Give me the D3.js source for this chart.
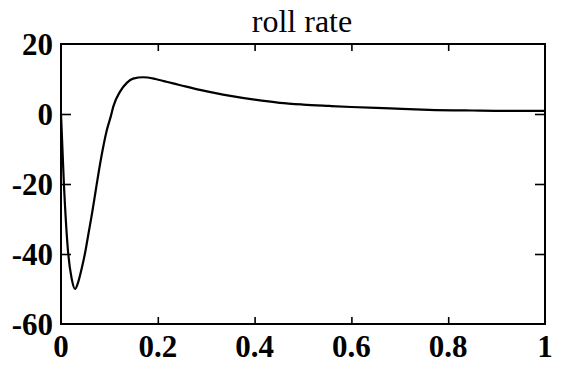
<!DOCTYPE html>
<html>
<head>
<meta charset="utf-8">
<script src="https://cdn.jsdelivr.net/npm/d3@7"></script>
<style>
  html, body { margin: 0; padding: 0; background: #fff; }
  svg { display: block; }
  text { font-family: "Liberation Serif", "Times New Roman", serif; fill: #000; }
</style>
</head>
<body>
<svg id="chart" width="567" height="370"></svg>
<script>
// Roll rate response over time
const time = [0, 0.006, 0.015, 0.022, 0.029, 0.036, 0.043, 0.050, 0.057, 0.064, 0.071, 0.078, 0.086, 0.094, 0.103, 0.108, 0.122, 0.136, 0.149, 0.170, 0.195, 0.218, 0.245, 0.287, 0.322, 0.35, 0.40, 0.452, 0.50, 0.555, 0.60, 0.68, 0.76, 0.85, 0.92, 1.0];
const rollRate = [0, -20, -40, -47, -50, -47.8, -44, -39.5, -34, -28.5, -22.5, -16.5, -10.3, -5, -0.6, 2.1, 6.4, 8.9, 10.1, 10.5, 10.0, 9.2, 8.3, 6.9, 5.9, 5.2, 4.1, 3.2, 2.7, 2.3, 2.0, 1.6, 1.2, 1.0, 0.9, 0.9];

const xTicks = [0, 0.2, 0.4, 0.6, 0.8, 1];
const xTickLabels = ["0", "0.2", "0.4", "0.6", "0.8", "1"];
const yTicks = [20, 0, -20, -40, -60];
const yTickLabels = ["20", "0", "-20", "-40", "-60"];
const title = "roll rate";

const svg = d3.select("#chart");
const margin = { left: 61, right: 22, top: 44, bottom: 46 };
const W = 567, H = 370;

const x = d3.scaleLinear().domain([0, 1]).range([margin.left, W - margin.right]);
const y = d3.scaleLinear().domain([-60, 20]).range([H - margin.bottom, margin.top]);

// Inward ticks on all four sides
const tickStyle = g => g.selectAll("path.domain").remove();

svg.append("g")
  .attr("transform", `translate(0,${y(-60)})`)
  .call(d3.axisTop(x).tickValues(xTicks.slice(1, -1)).tickSize(7).tickFormat(""))
  .call(tickStyle)
  .selectAll("line").attr("stroke", "#000").attr("stroke-width", 1.6);

svg.append("g")
  .attr("transform", `translate(0,${y(20)})`)
  .call(d3.axisBottom(x).tickValues(xTicks.slice(1, -1)).tickSize(7).tickFormat(""))
  .call(tickStyle)
  .selectAll("line").attr("stroke", "#000").attr("stroke-width", 1.6);

svg.append("g")
  .attr("transform", `translate(${x(0)},0)`)
  .call(d3.axisRight(y).tickValues(yTicks.slice(1, -1)).tickSize(10).tickFormat(""))
  .call(tickStyle)
  .selectAll("line").attr("stroke", "#000").attr("stroke-width", 1.6);

svg.append("g")
  .attr("transform", `translate(${x(1)},0)`)
  .call(d3.axisLeft(y).tickValues(yTicks.slice(1, -1)).tickSize(10).tickFormat(""))
  .call(tickStyle)
  .selectAll("line").attr("stroke", "#000").attr("stroke-width", 1.6);

// Axis box
svg.append("rect")
  .attr("x", x(0)).attr("y", y(20))
  .attr("width", x(1) - x(0)).attr("height", y(-60) - y(20))
  .attr("fill", "none").attr("stroke", "#000").attr("stroke-width", 2);

// Tick labels
svg.append("g").selectAll("text")
  .data(xTicks)
  .join("text")
  .attr("x", d => x(d))
  .attr("y", 357)
  .attr("text-anchor", "middle")
  .attr("font-size", 31)
  .attr("font-weight", "bold")
  .text((d, i) => xTickLabels[i]);

svg.append("g").selectAll("text")
  .data(yTicks)
  .join("text")
  .attr("x", 53)
  .attr("y", d => y(d))
  .attr("dy", "0.34em")
  .attr("text-anchor", "end")
  .attr("font-size", 31)
  .attr("font-weight", "bold")
  .text((d, i) => yTickLabels[i]);

// Title
svg.append("text")
  .attr("x", 302)
  .attr("y", 32)
  .attr("text-anchor", "middle")
  .attr("font-size", 32)
  .text(title);

// Response curve
const line = d3.line()
  .x((d, i) => x(time[i]))
  .y(d => y(d))
  .curve(d3.curveMonotoneX);

svg.append("path")
  .datum(rollRate)
  .attr("d", line)
  .attr("fill", "none")
  .attr("stroke", "#000")
  .attr("stroke-width", 2.2)
  .attr("stroke-linejoin", "round");
</script>
</body>
</html>
